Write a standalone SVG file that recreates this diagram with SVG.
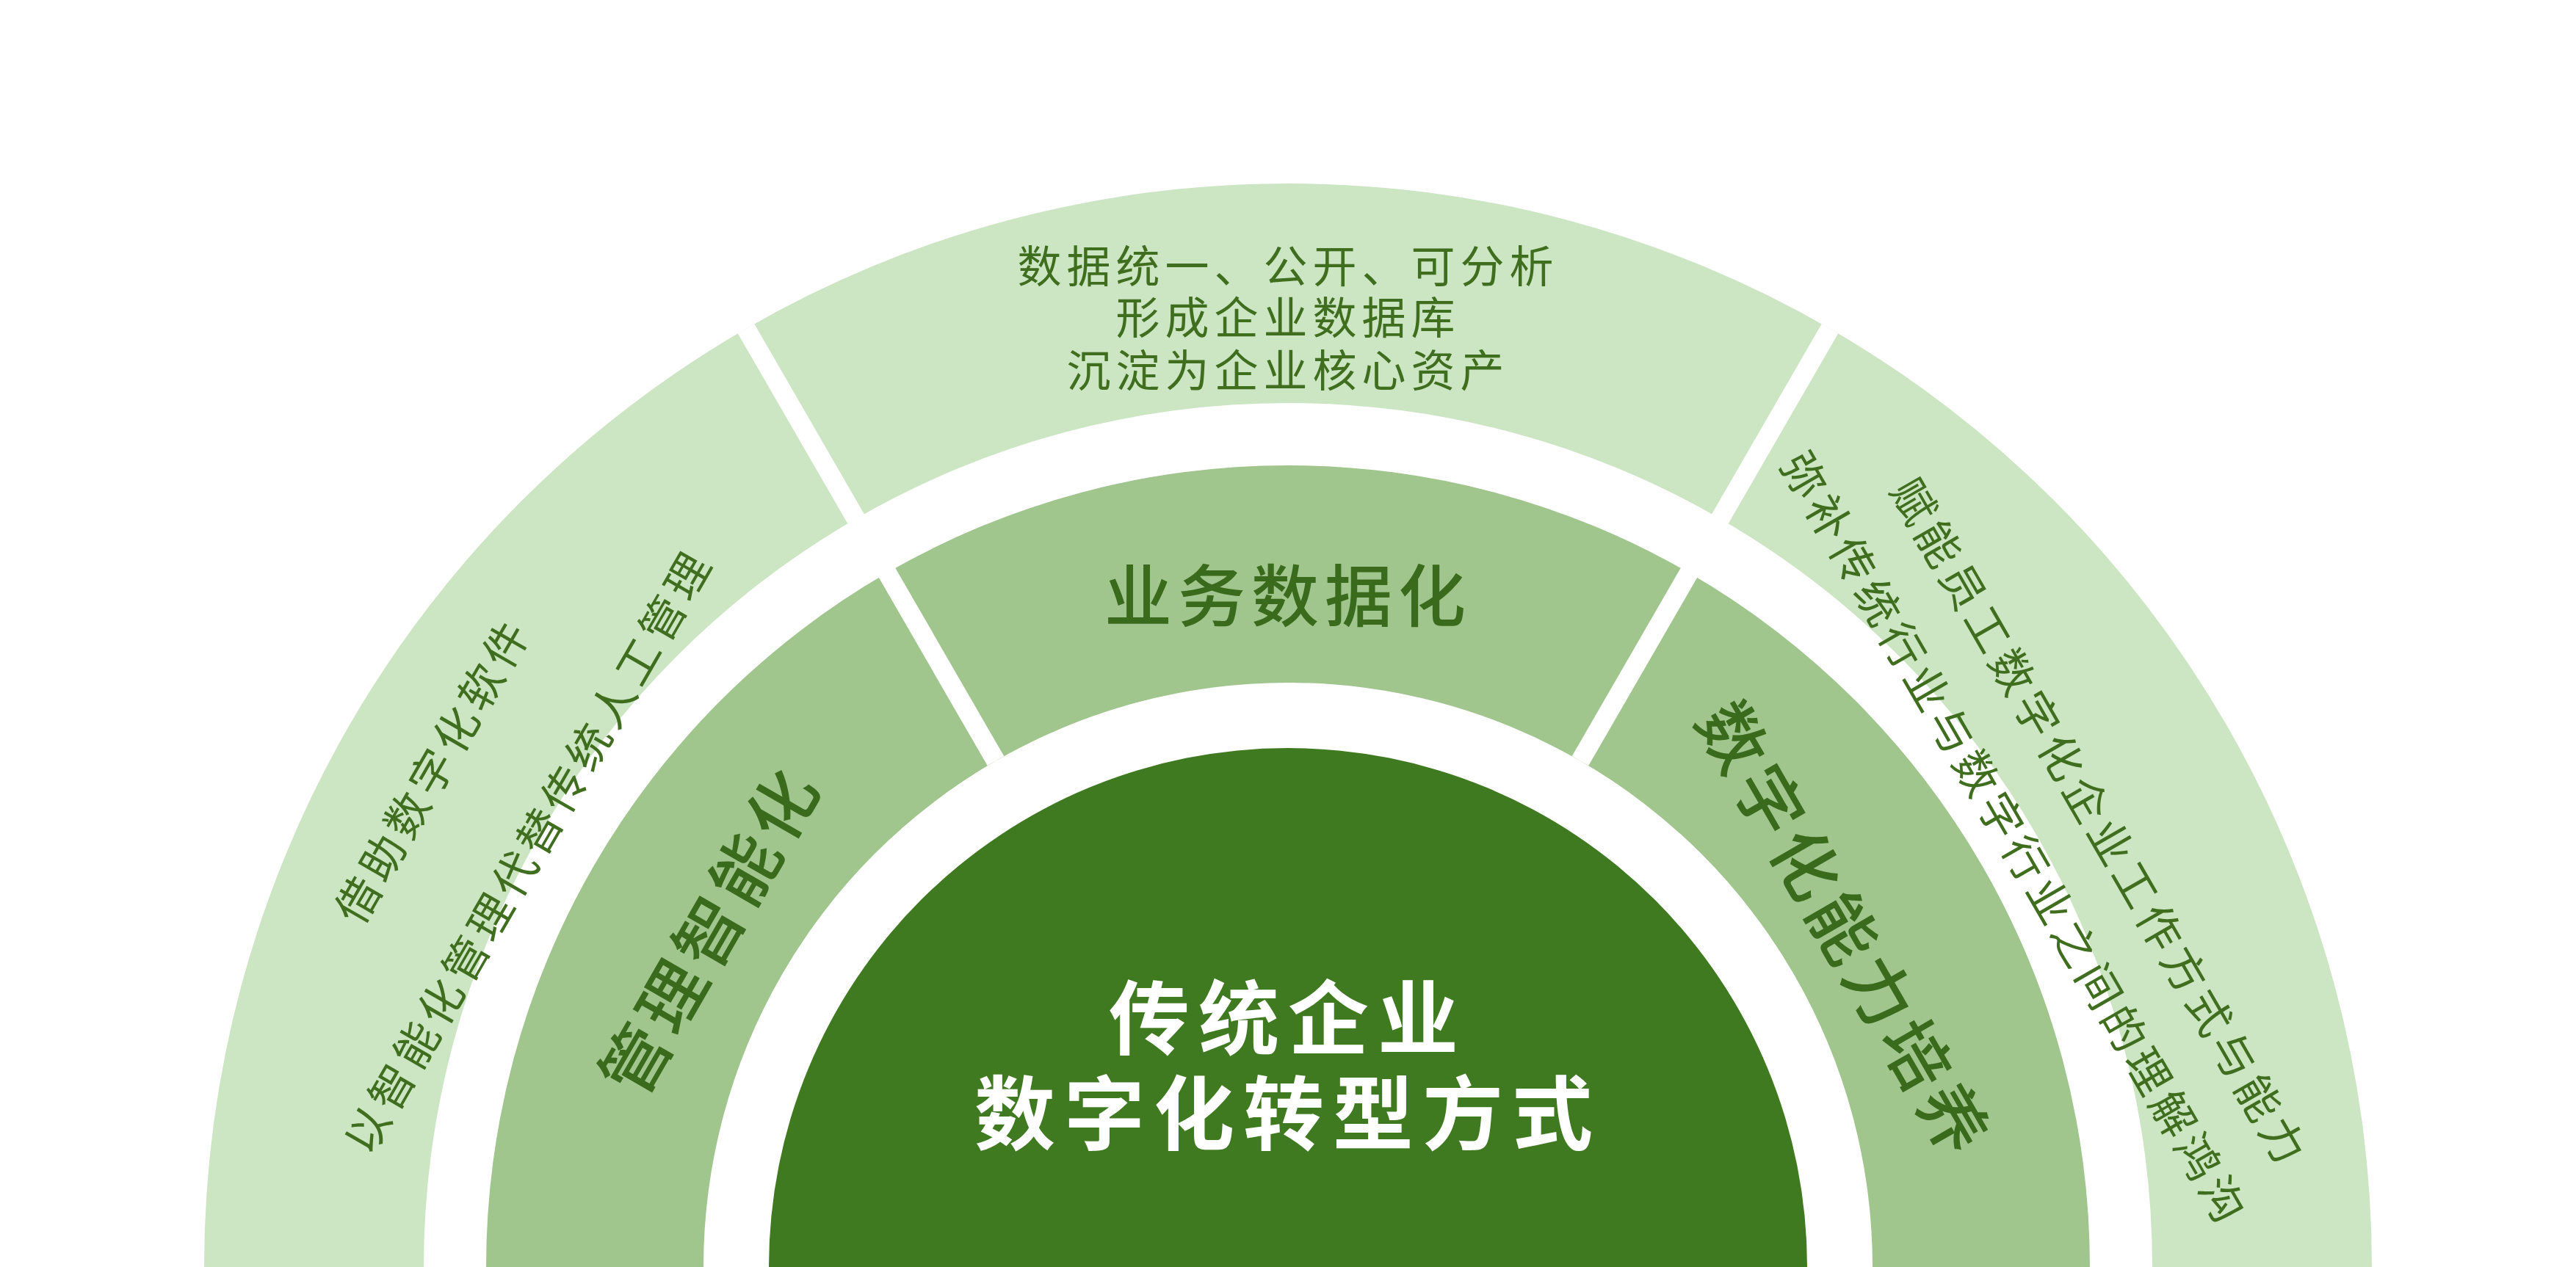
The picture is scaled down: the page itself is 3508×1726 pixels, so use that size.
<svg xmlns="http://www.w3.org/2000/svg" width="3508" height="1726" viewBox="0 0 3508 1726">
<style>
.o{fill:#cce5c3}.m{fill:#a0c68e}.c{fill:#3f7a20}
text{font-family:"Noto Sans CJK SC","Noto Sans",sans-serif;text-anchor:middle;dominant-baseline:central}
.t{font-size:60px;fill:#3f6e1e;letter-spacing:7px}
.h{font-size:92px;fill:#3a6b1c;font-weight:500;letter-spacing:8px}
.w{font-size:110px;fill:#fff;font-weight:bold;letter-spacing:12px}
</style>
<rect width="3508" height="1726" fill="#fff"/>
<g id="outer-left"><path class="o" d="M278,1726 A1476,1476 0 0 1 1016,447.7 L1165.5,706.7 A1177,1177 0 0 0 577,1726 Z"/>
<text class="t" transform="translate(586,1047) rotate(-60)">借助数字化软件</text>
<text class="t" transform="translate(716,1157) rotate(-60)">以智能化管理代替传统人工管理</text></g>
<g id="outer-top"><path class="o" d="M1016,447.7 A1476,1476 0 0 1 2492,447.7 L2342.5,706.7 A1177,1177 0 0 0 1165.5,706.7 Z"/>
<text class="t" x="1754" y="358">数据统一、公开、可分析</text>
<text class="t" x="1754" y="428">形成企业数据库</text>
<text class="t" x="1754" y="500">沉淀为企业核心资产</text></g>
<g id="outer-right"><path class="o" d="M2492,447.7 A1476,1476 0 0 1 3230,1726 L2931,1726 A1177,1177 0 0 0 2342.5,706.7 Z"/>
<text class="t" transform="translate(2863,1119) rotate(60)">赋能员工数字化企业工作方式与能力</text>
<text class="t" transform="translate(2747,1141) rotate(60)">弥补传统行业与数字行业之间的理解鸿沟</text></g>
<g id="mid-left"><path class="m" d="M662,1726 A1092,1092 0 0 1 1208,780.3 L1356,1036.6 A796,796 0 0 0 958,1726 Z"/>
<text class="h" transform="translate(962,1264) rotate(-60)">管理智能化</text></g>
<g id="mid-top"><path class="m" d="M1208,780.3 A1092,1092 0 0 1 2300,780.3 L2152,1036.6 A796,796 0 0 0 1356,1036.6 Z"/>
<text class="h" x="1754" y="805">业务数据化</text></g>
<g id="mid-right"><path class="m" d="M2300,780.3 A1092,1092 0 0 1 2846,1726 L2550,1726 A796,796 0 0 0 2152,1036.6 Z"/>
<text class="h" transform="translate(2517,1264) rotate(60)">数字化能力培养</text></g>
<g id="core"><circle class="c" cx="1754" cy="1726" r="707"/>
<text class="w" x="1754" y="1380">传统企业</text>
<text class="w" x="1754" y="1510">数字化转型方式</text></g>
<g id="connectors" stroke="#fff" stroke-width="26">
<line x1="1356" y1="1036.6" x2="1016" y2="447.7"/>
<line x1="2152" y1="1036.6" x2="2492" y2="447.7"/>
</g>
</svg>
